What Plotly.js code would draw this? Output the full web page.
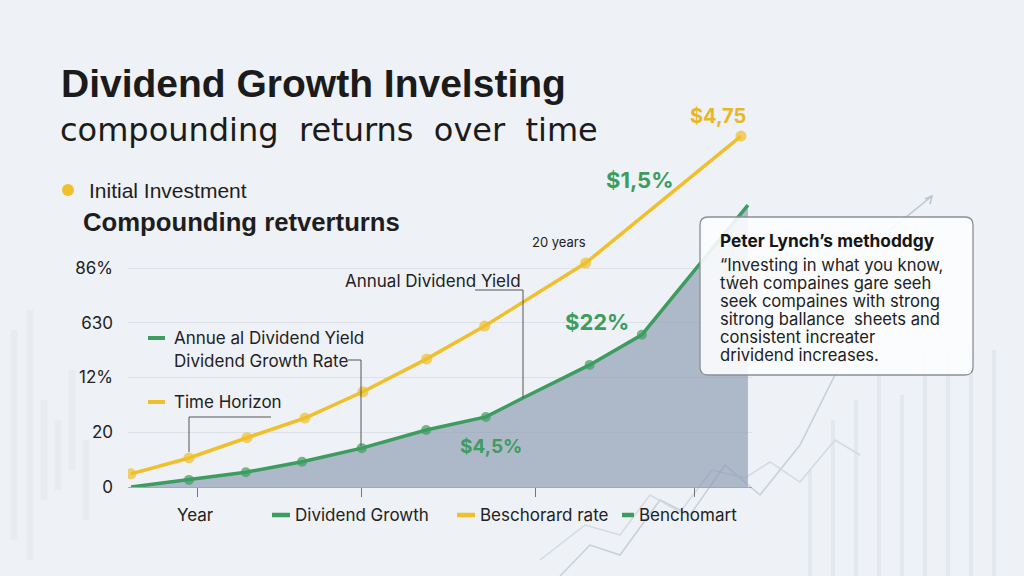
<!DOCTYPE html>
<html>
<head>
<meta charset="utf-8">
<script src="https://cdn.plot.ly/plotly-3.0.1.min.js"></script>
<style>
html,body{margin:0;padding:0;background:#eef1f5;}
#chart{width:1024px;height:576px;}
</style>
</head>
<body>
<div id="chart"></div>
<script>
// ---- data ----
const yellowYears = [0, 1, 2, 3, 4, 5.1, 6.1, 7.84, 10.52];
const yellowValues = [0.24, 0.53, 0.9, 1.26, 1.74, 2.34, 2.94, 4.09, 6.41];
const yellowMarker = [11, 11, 11, 11, 11, 11, 11, 11, 11];

const greenYears = [0, 1, 1.98, 2.95, 3.98, 5.09, 6.12, 6.75, 7.91, 8.81, 10.64];
const greenValues = [0, 0.13, 0.27, 0.46, 0.71, 1.04, 1.28, 1.62, 2.23, 2.78, 5.15];
const greenMarker = [0, 10, 10, 10, 10, 10, 10, 0, 10, 10, 0];

const yTickVals = [0, 1, 2, 3, 4];
const yTickText = ["0", "20", "12%", "630", "86%"];
const xTickVals = [1.14, 3.97, 6.98, 9.71];

const legendLabels = ["Dividend Growth", "Beschorard rate", "Benchomart"];
const boxTitle = "Peter Lynch\u2019s methoddgy";
const boxLines = [
  "\u201CInvesting in what you know,",
  "tẃeh compaines gare seeh",
  "seek compaines with strong",
  "sitrong ballance  sheets and",
  "consistent increater",
  "drividend increases."
];

// ---- pixel helpers (plot area) ----
const L = 128, R = 752, T = 100, B = 487;
const px = x => (x - L) / (R - L);
const py = y => (B - y) / (B - T);

const YEL = "#efbf2c";
const GRN = "#3d9c60";
const FONT = "Inter, Roboto, 'Liberation Sans', sans-serif";
const HFONT = "'Liberation Sans', Arial, sans-serif";
const SFONT = "'DejaVu Sans', Verdana, sans-serif";

function txt(x, y, text, opts) {
  opts = opts || {};
  return {
    xref: "paper", yref: "paper", x: px(x), y: py(y), text: text,
    showarrow: false, xanchor: opts.xa || "left", yanchor: "middle",
    font: {family: opts.family || FONT, size: opts.size || 17, color: opts.color || "#222"}
  };
}
function seg(x0, y0, x1, y1, color, width, layer) {
  return {type: "line", xref: "paper", yref: "paper",
    x0: px(x0), y0: py(y0), x1: px(x1), y1: py(y1),
    line: {color: color, width: width}, layer: layer || "above"};
}
function poly(points, color, width) {
  let d = "";
  points.forEach((p, i) => { d += (i ? " L" : "M") + px(p[0]).toFixed(4) + "," + py(p[1]).toFixed(4); });
  return {type: "path", xref: "paper", yref: "paper", path: d, line: {color: color, width: width}, layer: "below"};
}
function roundRect(x0, y0, x1, y1, r) {
  const X = v => px(v).toFixed(4), Y = v => py(v).toFixed(4);
  return "M" + X(x0 + r) + "," + Y(y0) +
    " L" + X(x1 - r) + "," + Y(y0) + " Q" + X(x1) + "," + Y(y0) + " " + X(x1) + "," + Y(y0 + r) +
    " L" + X(x1) + "," + Y(y1 - r) + " Q" + X(x1) + "," + Y(y1) + " " + X(x1 - r) + "," + Y(y1) +
    " L" + X(x0 + r) + "," + Y(y1) + " Q" + X(x0) + "," + Y(y1) + " " + X(x0) + "," + Y(y1 - r) +
    " L" + X(x0) + "," + Y(y0 + r) + " Q" + X(x0) + "," + Y(y0) + " " + X(x0 + r) + "," + Y(y0) + " Z";
}

const traces = [
  {
    x: greenYears, y: greenValues, type: "scatter", mode: "lines+markers",
    fill: "tozeroy", fillcolor: "rgba(132,150,172,0.62)",
    line: {color: GRN, width: 3.5},
    marker: {color: GRN, size: greenMarker, line: {width: 0}},
    name: legendLabels[0], showlegend: false, hoverinfo: "skip"
  },
  {
    x: yellowYears, y: yellowValues, type: "scatter", mode: "lines+markers",
    line: {color: YEL, width: 3.5},
    marker: {color: YEL, size: yellowMarker, line: {width: 0}},
    name: legendLabels[1], showlegend: false, hoverinfo: "skip"
  }
];

// background decoration shapes
const shapes = [];
const barXs = [810, 833, 856, 879, 902, 925, 948, 971, 994];
const barTops = [470, 420, 400, 360, 395, 352, 353, 348, 350];
barXs.forEach((bx, i) => shapes.push(seg(bx, barTops[i], bx, 576, "#e3e8ee", 4, "below")));
shapes.push(poly([[560, 576], [590, 545], [620, 555], [660, 500], [690, 515], [725, 465], [760, 495], [800, 445], [835, 375], [870, 330], [930, 262]], "#c6cfda", 1.5));
shapes.push(poly([[540, 560], [585, 525], [620, 535], [650, 495], [680, 512], [712, 470], [745, 478], [770, 462], [800, 482], [835, 440], [860, 455]], "#d3d9e2", 1.5));
shapes.push(poly([[890, 230], [932, 196]], "#b9c5d3", 1.5));
shapes.push(poly([[925, 199], [932, 196], [930, 204]], "#b9c5d3", 1.5));
// left candle decoration
const candleXs = [14, 30, 44, 58, 72, 86];
const candleTop = [330, 310, 400, 420, 370, 440];
const candleBot = [540, 560, 500, 490, 470, 520];
candleXs.forEach((cx, i) => shapes.push(seg(cx, candleTop[i], cx, candleBot[i], "#e8ebf0", 7, "below")));

// leader lines
shapes.push(seg(475, 290, 523, 290, "#555", 1));
shapes.push(seg(523, 290, 523, 398, "#555", 1));
shapes.push(seg(348, 360, 361, 360, "#555", 1));
shapes.push(seg(361, 360, 361, 446, "#555", 1));
shapes.push(seg(189, 417, 271, 417, "#555", 1));
shapes.push(seg(189, 417, 189, 452, "#555", 1));

// inner legend dashes
shapes.push(seg(148, 338, 165, 338, GRN, 4));
shapes.push(seg(148, 402, 165, 402, YEL, 4));
// bottom legend dashes
shapes.push(seg(272, 515, 290, 515, GRN, 4.5));
shapes.push(seg(457, 515, 475, 515, YEL, 4.5));
shapes.push(seg(622, 515, 634, 515, GRN, 4.5));

// quote box
shapes.push({type: "path", xref: "paper", yref: "paper", path: roundRect(700, 217, 973, 375, 8),
  fillcolor: "rgba(252,253,254,0.9)", line: {color: "#8a8f96", width: 1.3}, layer: "above"});

// initial dot
shapes.push({type: "circle", xref: "paper", yref: "paper",
  x0: px(62), x1: px(74), y0: py(184), y1: py(196), fillcolor: YEL, line: {width: 0}});

const annotations = [
  txt(59, 83, "<b>Dividend Growth Invelsting</b>", {size: 39, color: "#1b1b1b", family: HFONT}),
  txt(58, 130, "compounding  returns  over  time", {size: 32, color: "#1b1b1b", family: SFONT}),
  txt(87, 190, "Initial Investment", {size: 21, color: "#1e1e1e", family: HFONT}),
  txt(81, 222, "<b>Compounding retverturns</b>", {size: 25.7, color: "#1e1e1e", family: HFONT}),
  txt(530, 242, "20 years", {size: 13, color: "#222"}),
  txt(343, 281, "Annual Dividend Yield", {size: 17}),
  txt(172, 338, "Annue al Dividend Yield", {size: 17}),
  txt(172, 361, "Dividend Growth Rate", {size: 17}),
  txt(172, 402, "Time Horizon", {size: 17}),
  txt(718, 116, "<b>$4,75</b>", {size: 20, color: "#e6b828", xa: "center"}),
  txt(640, 180, "<b>$1,5%</b>", {size: 22, color: GRN, xa: "center"}),
  txt(597, 322, "<b>$22%</b>", {size: 22, color: GRN, xa: "center"}),
  txt(491, 446, "<b>$4,5%</b>", {size: 19, color: GRN, xa: "center"}),
  txt(195, 515, "Year", {size: 17, xa: "center"}),
  txt(293, 515, legendLabels[0], {size: 17}),
  txt(478, 515, legendLabels[1], {size: 17}),
  txt(637, 515, legendLabels[2], {size: 17}),
  txt(718, 240, "<b>" + boxTitle + "</b>", {size: 17.3, color: "#151515"})
];
boxLines.forEach((line, i) => annotations.push(txt(718, 265 + i * 18, line, {size: 16.6, color: "#222"})));

const layout = {
  width: 1024, height: 576,
  paper_bgcolor: "#eef1f5", plot_bgcolor: "rgba(0,0,0,0)",
  margin: {l: L, r: 1024 - R, t: T, b: 576 - B},
  showlegend: false,
  xaxis: {
    range: [-0.052, 10.71], showgrid: false, zeroline: false,
    showline: true, linecolor: "#a0aab7", linewidth: 1,
    tickvals: xTickVals, ticktext: ["", "", "", ""],
    ticks: "outside", ticklen: 9, tickcolor: "#777", tickwidth: 1
  },
  yaxis: {
    range: [0, (B - T) / 54.75], showgrid: true, gridcolor: "#dce1e8", gridwidth: 1,
    zeroline: false, showline: false,
    tickvals: yTickVals, ticktext: yTickText,
    ticklabelstandoff: 14,
    tickfont: {family: FONT, size: 17, color: "#222"}
  },
  shapes: shapes,
  annotations: annotations
};

Plotly.newPlot("chart", traces, layout, {displayModeBar: false, staticPlot: true});
</script>
</body>
</html>
